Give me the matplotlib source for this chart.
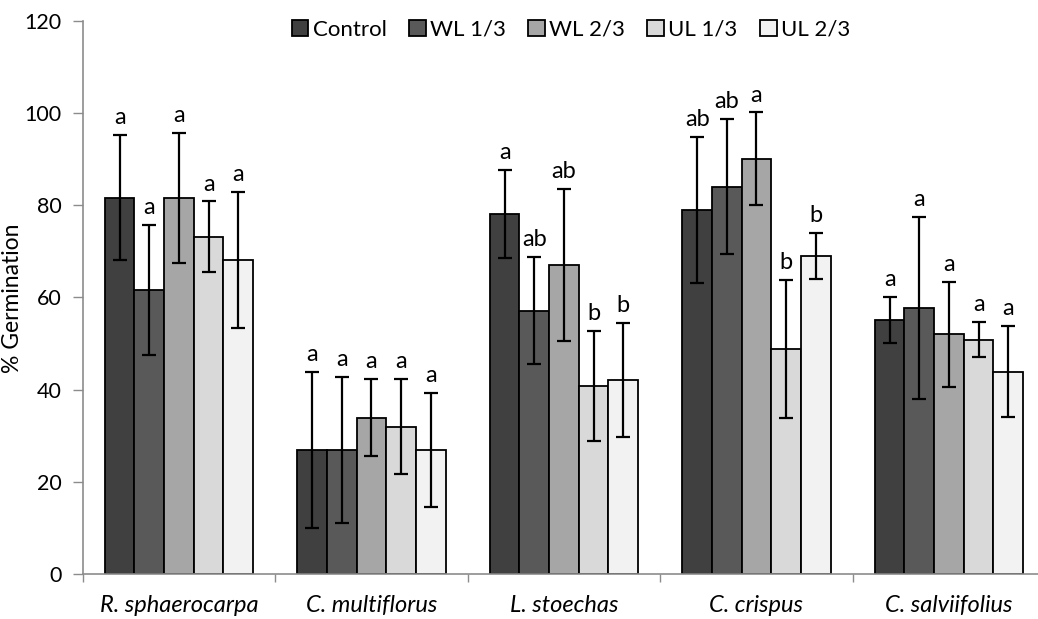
import numpy as np
import matplotlib
matplotlib.use("Agg")
import matplotlib.pyplot as plt
from matplotlib.ticker import FixedLocator, NullFormatter, FixedFormatter

plt.rcParams['font.family'] = ['Lato', 'DejaVu Sans']

species = ["R. sphaerocarpa", "C. multiflorus", "L. stoechas", "C. crispus", "C. salviifolius"]
treatments = ["Control", "WL 1/3", "WL 2/3", "UL 1/3", "UL 2/3"]

control = [81.6, 26.9, 78.1, 78.9, 55.0]
wl13 = [61.6, 26.9, 57.1, 84.0, 57.7]
wl23 = [81.6, 33.9, 67.0, 90.1, 52.0]
ul13 = [73.1, 31.9, 40.8, 48.8, 50.8]
ul23 = [68.1, 26.9, 42.1, 68.9, 43.9]

control_err = [13.6, 17.0, 9.5, 15.8, 5.0]
wl13_err = [14.0, 15.8, 11.6, 14.6, 19.8]
wl23_err = [14.1, 8.4, 16.5, 10.0, 11.4]
ul13_err = [7.7, 10.3, 12.0, 15.0, 3.8]
ul23_err = [14.7, 12.3, 12.3, 5.0, 9.8]

control_let = ["a", "a", "a", "ab", "a"]
wl13_let = ["a", "a", "ab", "ab", "a"]
wl23_let = ["a", "a", "ab", "a", "a"]
ul13_let = ["a", "a", "b", "b", "a"]
ul23_let = ["a", "a", "b", "b", "a"]

series = [control, wl13, wl23, ul13, ul23]
errors = [control_err, wl13_err, wl23_err, ul13_err, ul23_err]
letters = [control_let, wl13_let, wl23_let, ul13_let, ul23_let]
colors = ["#404040", "#595959", "#a6a6a6", "#d9d9d9", "#f2f2f2"]

W, H = 1038, 619
fig = plt.figure(figsize=(W / 100, H / 100), dpi=100)
x0, x1 = 82.7, 82.7 + 5 * 192.5
y0, y1 = 574.0, 20.7
ax = fig.add_axes([x0 / W, (H - y0) / H, (x1 - x0) / W, (y0 - y1) / H])

n = len(species)
centers = np.arange(n) + 0.5
bw = 0.154
spine_col = "#8c8c8c"

for j, (vals, errs, lets, col) in enumerate(zip(series, errors, letters, colors)):
    xs = centers + (j - 2) * bw
    ax.bar(xs, vals, width=bw, color=col, edgecolor="black", linewidth=1.3,
           label=treatments[j], zorder=2)
    ax.errorbar(xs, vals, yerr=errs, fmt="none", ecolor="black", elinewidth=1.6,
                capsize=5, capthick=1.6, zorder=3)
    for xv, v, e, t in zip(xs, vals, errs, lets):
        ax.annotate(t, (xv, v + e), xytext=(0, 5), textcoords="offset points",
                    ha="center", va="bottom", fontsize=17)

ax.set_xlim(0, n)
ax.set_ylim(0, 120)
ax.set_yticks(np.arange(0, 121, 20))
ax.tick_params(axis="y", direction="out", length=7, width=1, color=spine_col,
               labelsize=15.5, pad=8)
ax.xaxis.set_major_locator(FixedLocator(np.arange(0, n + 1)))
ax.xaxis.set_major_formatter(NullFormatter())
ax.xaxis.set_minor_locator(FixedLocator(centers))
ax.xaxis.set_minor_formatter(FixedFormatter(species))
ax.tick_params(axis="x", which="major", direction="out", length=6, width=1, color=spine_col)
ax.tick_params(axis="x", which="minor", length=0, labelsize=17, pad=15)
for lab in ax.get_xticklabels(minor=True):
    lab.set_fontstyle("italic")

for s in ["top", "right"]:
    ax.spines[s].set_visible(False)
for s in ["left", "bottom"]:
    ax.spines[s].set_color(spine_col)
    ax.spines[s].set_linewidth(1.2)

ax.set_ylabel("% Germination", fontsize=16.5)
ax.yaxis.set_label_coords((23 - x0) / (x1 - x0), (574 - 298) / (y0 - y1))

handles, labels = ax.get_legend_handles_labels()
fig.legend(handles, labels, loc="center", bbox_to_anchor=(571 / W, 1 - 30 / H),
           ncol=5, frameon=False, fontsize=16, handlelength=0.75, handleheight=0.75,
           handletextpad=0.2, columnspacing=1.0)

fig.savefig("out.png", dpi=100)
